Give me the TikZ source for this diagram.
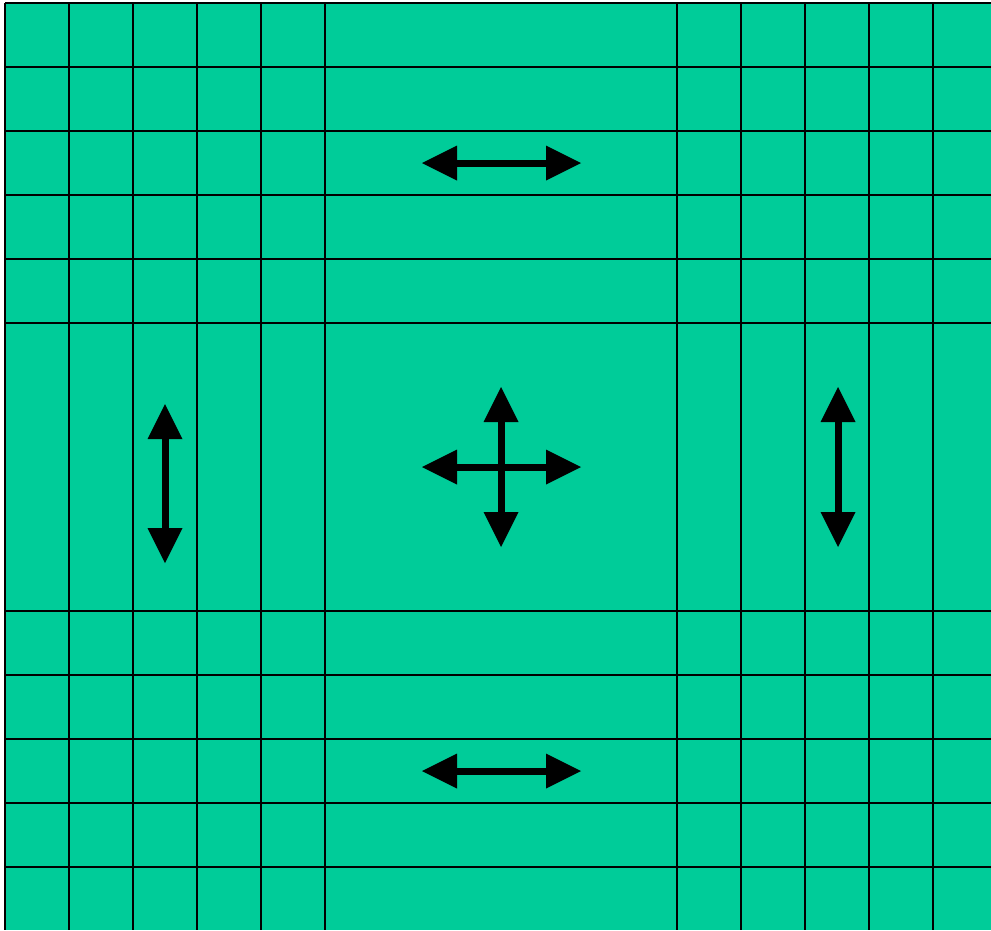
\documentclass[tikz,border=0pt]{standalone}
\usetikzlibrary{arrows.meta}
\definecolor{gridgreen}{RGB}{0,204,153}
\begin{document}
\begin{tikzpicture}[x=1pt,y=-1pt,
  gridline/.style={black,line width=1.5pt},
  dblarrow/.style={black,line width=7pt,
    {Triangle[length=35pt,width=35pt,line width=0pt]}-{Triangle[length=35pt,width=35pt,line width=0pt]}}]
\useasboundingbox (0,0) rectangle (991,930);
\fill[white] (0,0) rectangle (991,930);
\fill[gridgreen] (5,3) rectangle (991,930);
% vertical lines
\foreach \x in {5,69,133,197,261,325,677,741,805,869,933}
  \draw[gridline] (\x,3) -- (\x,930);
% horizontal lines
\foreach \y in {3,67,131,195,259,323,611,675,739,803,867}
  \draw[gridline] (5,\y) -- (991,\y);
% arrow end points
\coordinate (topL) at (422,163);
\coordinate (topR) at (581,163);
\coordinate (botL) at (422,771);
\coordinate (botR) at (581,771);
\coordinate (cenL) at (422,467);
\coordinate (cenR) at (581,467);
\coordinate (cenT) at (501,387);
\coordinate (cenB) at (501,547);
\coordinate (lftT) at (165,404);
\coordinate (lftB) at (165,563);
\coordinate (rgtT) at (838,387);
\coordinate (rgtB) at (838,547);
\draw[dblarrow] (topL) -- (topR);
\draw[dblarrow] (botL) -- (botR);
\draw[dblarrow] (cenL) -- (cenR);
\draw[dblarrow] (cenT) -- (cenB);
\draw[dblarrow] (lftT) -- (lftB);
\draw[dblarrow] (rgtT) -- (rgtB);
\end{tikzpicture}
\end{document}
